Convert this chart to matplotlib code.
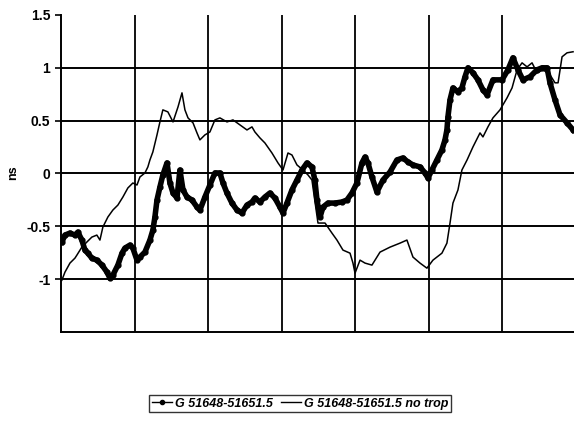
import matplotlib.pyplot as plt
import numpy as np

# Zeitachse in Tagen ab MJD 51648, Werte in ns
mjd0 = 51648

t_trop = [0.003, 0.024, 0.058, 0.092, 0.112, 0.139, 0.160, 0.180, 0.207, 0.241,
          0.276, 0.310, 0.330, 0.350, 0.384, 0.412, 0.432, 0.466, 0.486, 0.514,
          0.534, 0.568, 0.602, 0.622, 0.636, 0.650, 0.670, 0.690, 0.718, 0.738,
          0.759, 0.786, 0.806, 0.827, 0.854, 0.888, 0.922, 0.942, 0.976, 1.010,
          1.044, 1.078, 1.099, 1.126, 1.160, 1.194, 1.228, 1.262, 1.296, 1.316,
          1.350, 1.384, 1.418, 1.452, 1.486, 1.507, 1.534, 1.568, 1.602, 1.636,
          1.670, 1.704, 1.724, 1.738, 1.759, 1.779, 1.813, 1.861, 1.908, 1.942,
          1.976, 2.010, 2.044, 2.065, 2.085, 2.112, 2.146, 2.187, 2.235, 2.282,
          2.323, 2.357, 2.391, 2.439, 2.473, 2.493, 2.520, 2.554, 2.588, 2.609,
          2.622, 2.629, 2.643, 2.663, 2.697, 2.724, 2.745, 2.765, 2.799, 2.833,
          2.867, 2.895, 2.935, 2.997, 3.037, 3.071, 3.105, 3.139, 3.187, 3.235,
          3.269, 3.303, 3.323, 3.357, 3.391, 3.439, 3.480]
ns_trop = [-0.649, -0.583, -0.564, -0.583, -0.555, -0.630, -0.725, -0.754, -0.801, -0.820,
           -0.867, -0.934, -0.991, -0.962, -0.867, -0.754, -0.706, -0.678, -0.706, -0.820,
           -0.791, -0.744, -0.630, -0.536, -0.412, -0.251, -0.128, -0.014, 0.100, -0.090,
           -0.185, -0.232, 0.033, -0.156, -0.223, -0.251, -0.318, -0.346, -0.223, -0.109,
           0.005, 0.005, -0.090, -0.185, -0.280, -0.346, -0.374, -0.299, -0.270, -0.232,
           -0.270, -0.223, -0.185, -0.232, -0.318, -0.374, -0.280, -0.156, -0.062, 0.033,
           0.100, 0.062, -0.062, -0.251, -0.412, -0.318, -0.280, -0.280, -0.270, -0.251,
           -0.185, -0.090, 0.100, 0.156, 0.100, -0.033, -0.175, -0.062, 0.014, 0.128,
           0.147, 0.109, 0.081, 0.062, 0.005, -0.043, 0.033, 0.128, 0.223, 0.318,
           0.412, 0.536, 0.697, 0.810, 0.773, 0.810, 0.915, 1.000, 0.953, 0.886,
           0.791, 0.744, 0.886, 0.886, 0.981, 1.095, 0.981, 0.886, 0.915, 0.981,
           1.000, 1.000, 0.858, 0.697, 0.555, 0.479, 0.412]

t_notrop = [0.003, 0.024, 0.058, 0.092, 0.105, 0.139, 0.173, 0.207, 0.241, 0.262,
            0.282, 0.316, 0.350, 0.384, 0.418, 0.452, 0.486, 0.514, 0.534, 0.568,
            0.588, 0.602, 0.622, 0.650, 0.670, 0.690, 0.724, 0.759, 0.793, 0.820,
            0.840, 0.861, 0.895, 0.922, 0.942, 0.976, 1.010, 1.044, 1.078, 1.126,
            1.167, 1.214, 1.262, 1.296, 1.316, 1.350, 1.384, 1.432, 1.473, 1.507,
            1.541, 1.568, 1.602, 1.643, 1.677, 1.704, 1.745, 1.793, 1.840, 1.874,
            1.915, 1.963, 1.983, 1.997, 2.031, 2.065, 2.112, 2.167, 2.235, 2.303,
            2.350, 2.391, 2.439, 2.486, 2.527, 2.588, 2.622, 2.643, 2.663, 2.697,
            2.724, 2.759, 2.799, 2.847, 2.867, 2.901, 2.935, 2.983, 3.031, 3.065,
            3.099, 3.133, 3.167, 3.201, 3.235, 3.276, 3.323, 3.357, 3.378, 3.405,
            3.439, 3.480]
ns_notrop = [-1.010, -0.934, -0.848, -0.801, -0.773, -0.697, -0.649, -0.602, -0.583, -0.630,
             -0.507, -0.412, -0.346, -0.299, -0.223, -0.137, -0.090, -0.109, -0.033, 0.005,
             0.062, 0.128, 0.204, 0.365, 0.488, 0.602, 0.583, 0.488, 0.630, 0.763,
             0.602, 0.526, 0.479, 0.384, 0.318, 0.365, 0.393, 0.507, 0.526, 0.488,
             0.507, 0.460, 0.412, 0.441, 0.393, 0.337, 0.289, 0.194, 0.100, 0.033,
             0.194, 0.175, 0.081, 0.033, -0.014, -0.062, -0.469, -0.469, -0.564, -0.630,
             -0.725, -0.754, -0.848, -0.943, -0.820, -0.848, -0.867, -0.744, -0.697, -0.659,
             -0.630, -0.791, -0.848, -0.896, -0.820, -0.754, -0.659, -0.469, -0.280, -0.156,
             0.033, 0.128, 0.251, 0.384, 0.346, 0.441, 0.526, 0.602, 0.716, 0.810,
             0.981, 1.047, 1.009, 1.047, 0.953, 0.981, 0.934, 0.858, 0.858, 1.104,
             1.142, 1.152]

y_ticks = [1.5, 1, 0.5, 0, -0.5, -1]
y_labels = ['1.5', '1', '0.5', '0', '-0.5', '-1']

plt.rcParams['font.family'] = ['Liberation Sans', 'DejaVu Sans']

fig = plt.figure(figsize=(5.74, 4.22), dpi=100)
ax = fig.add_axes([0.107, 0.2133, 0.8965, 0.7512])

# Gitter von Hand: horizontale Linien bei 1 .. -1, vertikale alle 0.5 Tage
for y in [1, 0.5, 0, -0.5, -1]:
    ax.axhline(y, color='black', lw=1.4, zorder=1)
for x in np.arange(mjd0 + 0.5, mjd0 + 3.5, 0.5):
    ax.axvline(x, color='black', lw=1.3, zorder=1)

ax.plot(mjd0 + np.array(t_trop), ns_trop, color='black', lw=4.0,
        marker='o', markersize=3.5, zorder=3, label='G 51648-51651.5')
ax.plot(mjd0 + np.array(t_notrop), ns_notrop, color='black', lw=1.1,
        zorder=2, label='G 51648-51651.5 no trop')

ax.set_xlim(mjd0, mjd0 + 3.5)
ax.set_ylim(-1.5, 1.5)
ax.set_xticks([])
ax.set_yticks(y_ticks)
ax.set_yticklabels(y_labels, fontsize=10, fontweight='bold')
ax.tick_params(axis='y', direction='out', length=4, width=1.2, pad=4)

for side in ['top', 'right']:
    ax.spines[side].set_visible(False)
ax.spines['left'].set_linewidth(1.4)
ax.spines['bottom'].set_linewidth(1.4)

fig.text(0.022, 0.59, 'ns', rotation=90, fontsize=9, fontweight='bold',
         ha='center', va='center')

leg = fig.legend(loc='center', bbox_to_anchor=(0.523, 0.043), ncol=2,
                 frameon=True, fancybox=False, edgecolor='black',
                 handlelength=1.6, handletextpad=0.3, columnspacing=0.6,
                 borderpad=0.2, prop={'size': 9, 'style': 'italic', 'weight': 'bold'})
leg.get_frame().set_linewidth(1.0)
for line in leg.get_lines():
    line.set_linewidth(1.0)
    line.set_markersize(3)

fig.savefig('out.png', dpi=100)
